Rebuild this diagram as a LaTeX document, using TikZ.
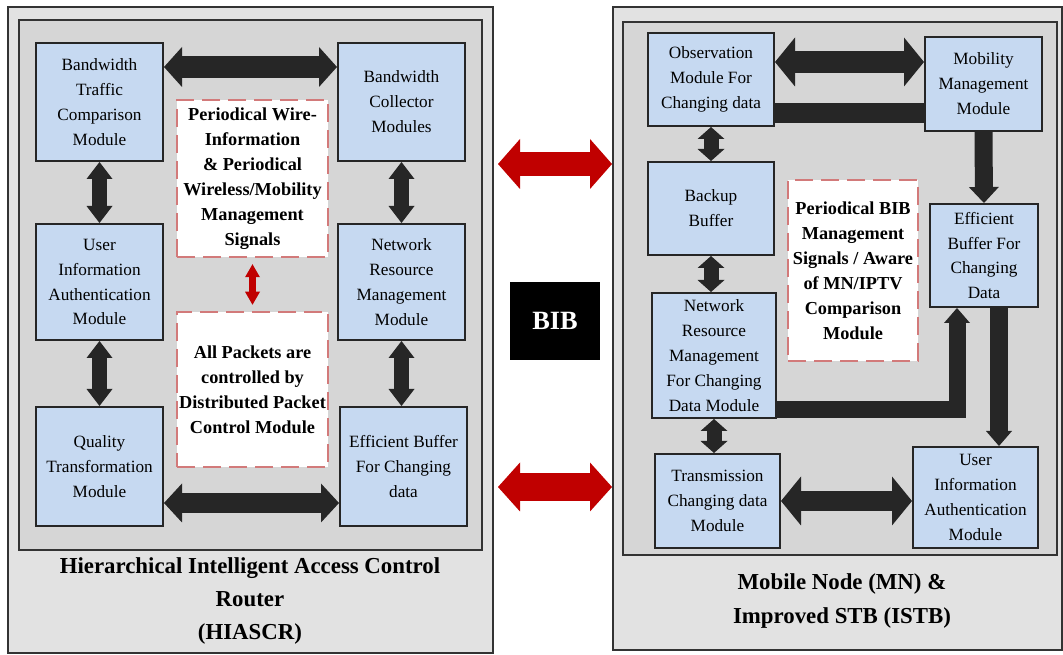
\documentclass[tikz,border=0pt]{standalone}
\usepackage{fontspec}
\setmainfont{Liberation Serif}
\usetikzlibrary{arrows.meta, positioning}
\newdimen\pxu \pxu=0.02cm
\def\pxv{0.02cm}
\definecolor{boxblue}{HTML}{C6D9F1}
\definecolor{panelout}{HTML}{E2E2E2}
\definecolor{panelin}{HTML}{D6D6D6}
\definecolor{arrdark}{HTML}{262626}
\definecolor{arrred}{HTML}{C00000}
\definecolor{dashred}{HTML}{D27A7A}
\tikzset{
  module/.style 2 args={
    draw=black!85, line width=2\pxu, fill=boxblue,
    minimum width=#1\pxu, minimum height=#2\pxu,
    align=center, inner sep=1pt,
    font=\fontsize{9.8}{14.2}\selectfont
  },
  notebox/.style 2 args={
    draw=dashred, line width=2.5\pxu, fill=white,
    dash pattern=on 18\pxu off 8\pxu,
    minimum width=#1\pxu, minimum height=#2\pxu,
    align=center, inner sep=1pt,
    font=\fontsize{10.4}{14.2}\selectfont\bfseries
  },
  panel/.style 2 args={
    draw=black!80, line width=2\pxu, fill=panelout,
    minimum width=#1\pxu, minimum height=#2\pxu, inner sep=0pt
  },
  innerpanel/.style 2 args={
    panel={#1}{#2}, fill=panelin
  },
  fatboth/.style n args={3}{
    draw=arrdark, line width=#1\pxu,
    >={Triangle[width=#2*\pxv,length=#3*\pxv,line width=0pt]}, <->
  },
  fatto/.style n args={3}{
    draw=arrdark, line width=#1\pxu, line join=miter,
    >={Triangle[width=#2*\pxv,length=#3*\pxv,line width=0pt]}, ->
  },
  redboth/.style n args={3}{
    fatboth={#1}{#2}{#3}, draw=arrred
  },
  band/.style={draw=arrdark, line width=#1\pxu},
  title/.style={align=center, font=\fontsize{13}{18.7}\selectfont\bfseries}
}

\begin{document}
\begin{tikzpicture}[x=\pxu, y=-\pxu]
\useasboundingbox (0,0) rectangle (1063,655);

\node[panel={485}{646}] (LOut) at (250.5,330) {};
\node[innerpanel={463}{530}] (LIn) at (250.5,285) {};
\node[panel={449}{643}] (ROut) at (837.5,328.5) {};
\node[innerpanel={434}{533}] (RIn) at (840,288.5) {};

\node[module={127}{118}] (BTC) at (99.5,102) {Bandwidth\\Traffic\\Comparison\\Module};
\node[module={127}{118}] (BCM) at (401.5,102) {Bandwidth\\Collector\\Modules};
\node[module={127}{116}] (UIAl) at (99.5,282) {User\\Information\\Authentication\\Module};
\node[module={127}{116}] (NRMl) at (401.5,282) {Network\\Resource\\Management\\Module};
\node[module={127}{119}] (QTM) at (99.5,466.5) {Quality\\Transformation\\Module};
\node[module={127}{119}] (EBCl) at (403.5,466.5) {Efficient Buffer\\For Changing\\data};
\node[notebox={151}{157}] (NoteTop) at (252.5,178.5) {Periodical Wire-\\Information\\\& Periodical\\Wireless/Mobility\\Management\\Signals};
\node[notebox={151}{155}] (NoteBot) at (252.5,389.5) {All Packets are\\controlled by\\Distributed Packet\\Control Module};
\node[title] (LTitle) at (250,601) {Hierarchical Intelligent Access Control\\Router\\(HIASCR)};

\node[module={126}{93}] (OMC) at (711,79.5) {Observation\\Module For\\Changing data};
\node[module={117}{94}] (MMM) at (983.5,84) {Mobility\\Management\\Module};
\node[module={126}{93}] (BB) at (711,208.5) {Backup\\Buffer};
\node[module={108}{103}] (EBF) at (984,255.5) {Efficient\\Buffer For\\Changing\\Data};
\node[module={124}{125}] (NRMF) at (714,355.5) {Network\\Resource\\Management\\For Changing\\Data Module};
\node[module={125}{94}] (TCD) at (717.5,501) {Transmission\\Changing data\\Module};
\node[module={125}{101}] (UIAr) at (975.5,497.5) {User\\Information\\Authentication\\Module};
\node[notebox={130}{181}] (NoteR) at (853,270.5) {Periodical BIB\\Management\\Signals / Aware\\of MN/IPTV\\Comparison\\Module};
\node[title, font=\fontsize{13}{19.8}\selectfont\bfseries] (RTitle) at (842,601) {Mobile Node (MN) \&\\Improved STB (ISTB)};

\node[fill=black, text=white, minimum width=90\pxu, minimum height=78\pxu,
      font=\fontsize{15}{18}\selectfont\bfseries] (BIB) at (555,321) {BIB};

\coordinate (a1) at ([yshift=-25\pxu]BTC.north east);
\coordinate (a2) at ([yshift=24\pxu]QTM.south east);
\draw[fatboth={22}{40}{18}] (a1) -- (a1 -| BCM.west);
\draw[fatboth={20}{39}{18}] (a2) -- (a2 -| EBCl.west);
\draw[fatboth={15}{26}{17}] (BTC.south) -- (UIAl.north);
\draw[fatboth={15}{26}{17}] (UIAl.south) -- (QTM.north);
\draw[fatboth={15}{26}{17}] (BCM.south) -- (NRMl.north);
\draw[fatboth={15}{26}{17}] (NRMl.south) -- (NRMl.south |- EBCl.north);
\draw[redboth={7}{15}{13}, shorten >=6\pxu, shorten <=6\pxu] (NoteTop.south) -- (NoteBot.north);

\coordinate (r1) at ([yshift=-30\pxu]OMC.north east);
\coordinate (r2) at ([yshift=14\pxu]OMC.south east);
\coordinate (r3) at ([yshift=9\pxu]NRMF.south east);
\coordinate (r4) at ([xshift=28\pxu]EBF.south west);
\coordinate (r5) at ([xshift=70\pxu]EBF.south west);
\draw[fatboth={22}{49}{20}] (r1) -- (r1 -| MMM.west);
\draw[band=20] (r2) -- (r2 -| MMM.west);
\draw[fatto={18}{30}{16}] (MMM.south) -- (EBF.north);
\draw[fatboth={15}{27}{12}] (OMC.south) -- (BB.north);
\draw[fatboth={15}{27}{12}] (BB.south) -- (BB.south |- NRMF.north);
\draw[fatboth={15}{27}{12}] (NRMF.south) -- (NRMF.south |- TCD.north);
\draw[fatto={17}{26}{15}] (r3) -| (r4);
\draw[fatto={18}{26}{15}] (r5) -- (r5 |- UIAr.north);
\draw[fatboth={20}{49}{20}] (TCD.east) -- (TCD.east -| UIAr.west);

\coordinate (b1) at ([xshift=4\pxu, yshift=-158\pxu]LOut.north east);
\coordinate (b2) at ([xshift=4\pxu, yshift=-481\pxu]LOut.north east);
\draw[redboth={24}{50}{22}] (b1) -- (b1 -| ROut.west);
\draw[redboth={28}{49}{22}] (b2) -- (b2 -| ROut.west);
\end{tikzpicture}
\end{document}
